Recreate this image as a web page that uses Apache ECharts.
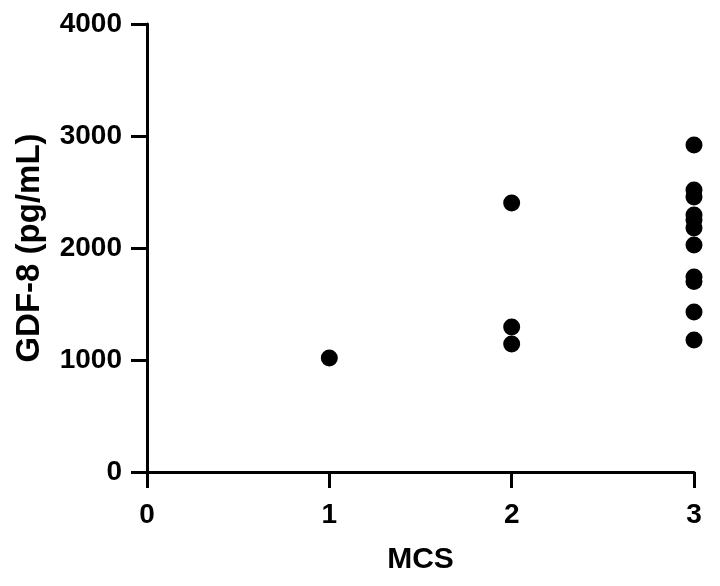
<!DOCTYPE html>
<html><head><meta charset="utf-8">
<script src="https://cdn.jsdelivr.net/npm/echarts@6/dist/echarts.min.js"></script>
<style>html,body{margin:0;padding:0;background:#fff}#c{width:720px;height:586px}</style>
</head><body><div id="c"></div>
<script>
const mcs1 = [1018];
const mcs2 = [2402, 1295, 1143];
const mcs3 = [2920, 2518, 2455, 2295, 2250, 2179, 2027, 1740, 1700, 1429, 1179];
const xTicks = [0, 1, 2, 3];
const yTicks = [0, 1000, 2000, 3000, 4000];

const data = [];
mcs1.forEach(v => data.push([1, v]));
mcs2.forEach(v => data.push([2, v]));
mcs3.forEach(v => data.push([3, v]));

const font = 'Liberation Sans, Arial, sans-serif';
const chart = echarts.init(document.getElementById('c'));
chart.setOption({
  animation: false,
  grid: {left: 147, right: 26, top: 24, bottom: 114, containLabel: false},
  xAxis: {
    type: 'value', min: xTicks[0], max: xTicks[xTicks.length - 1], interval: 1,
    name: 'MCS', nameLocation: 'middle', nameGap: 73,
    nameTextStyle: {fontFamily: font, fontWeight: 'bold', fontSize: 30, color: '#000'},
    axisLine: {show: true, onZero: false, lineStyle: {color: '#000', width: 3}},
    axisTick: {show: true, length: 16, lineStyle: {color: '#000', width: 3}},
    axisLabel: {fontFamily: font, fontWeight: 'bold', fontSize: 28, color: '#000', margin: 29,
      formatter: v => String(v)},
    splitLine: {show: false}
  },
  yAxis: {
    type: 'value', min: yTicks[0], max: yTicks[yTicks.length - 1], interval: 1000,
    name: 'GDF-8 (pg/mL)', nameLocation: 'middle', nameGap: 101, nameRotate: 90,
    nameTextStyle: {fontFamily: font, fontWeight: 'bold', fontSize: 33, color: '#000'},
    axisLine: {show: true, onZero: false, lineStyle: {color: '#000', width: 3}},
    axisTick: {show: true, length: 16, lineStyle: {color: '#000', width: 3}},
    axisLabel: {fontFamily: font, fontWeight: 'bold', fontSize: 28, color: '#000', margin: 25,
      formatter: v => String(v)},
    splitLine: {show: false}
  },
  series: [{
    type: 'scatter', data: data, symbol: 'circle', symbolSize: 17,
    itemStyle: {color: '#000', opacity: 1}
  }]
});
</script></body></html>
